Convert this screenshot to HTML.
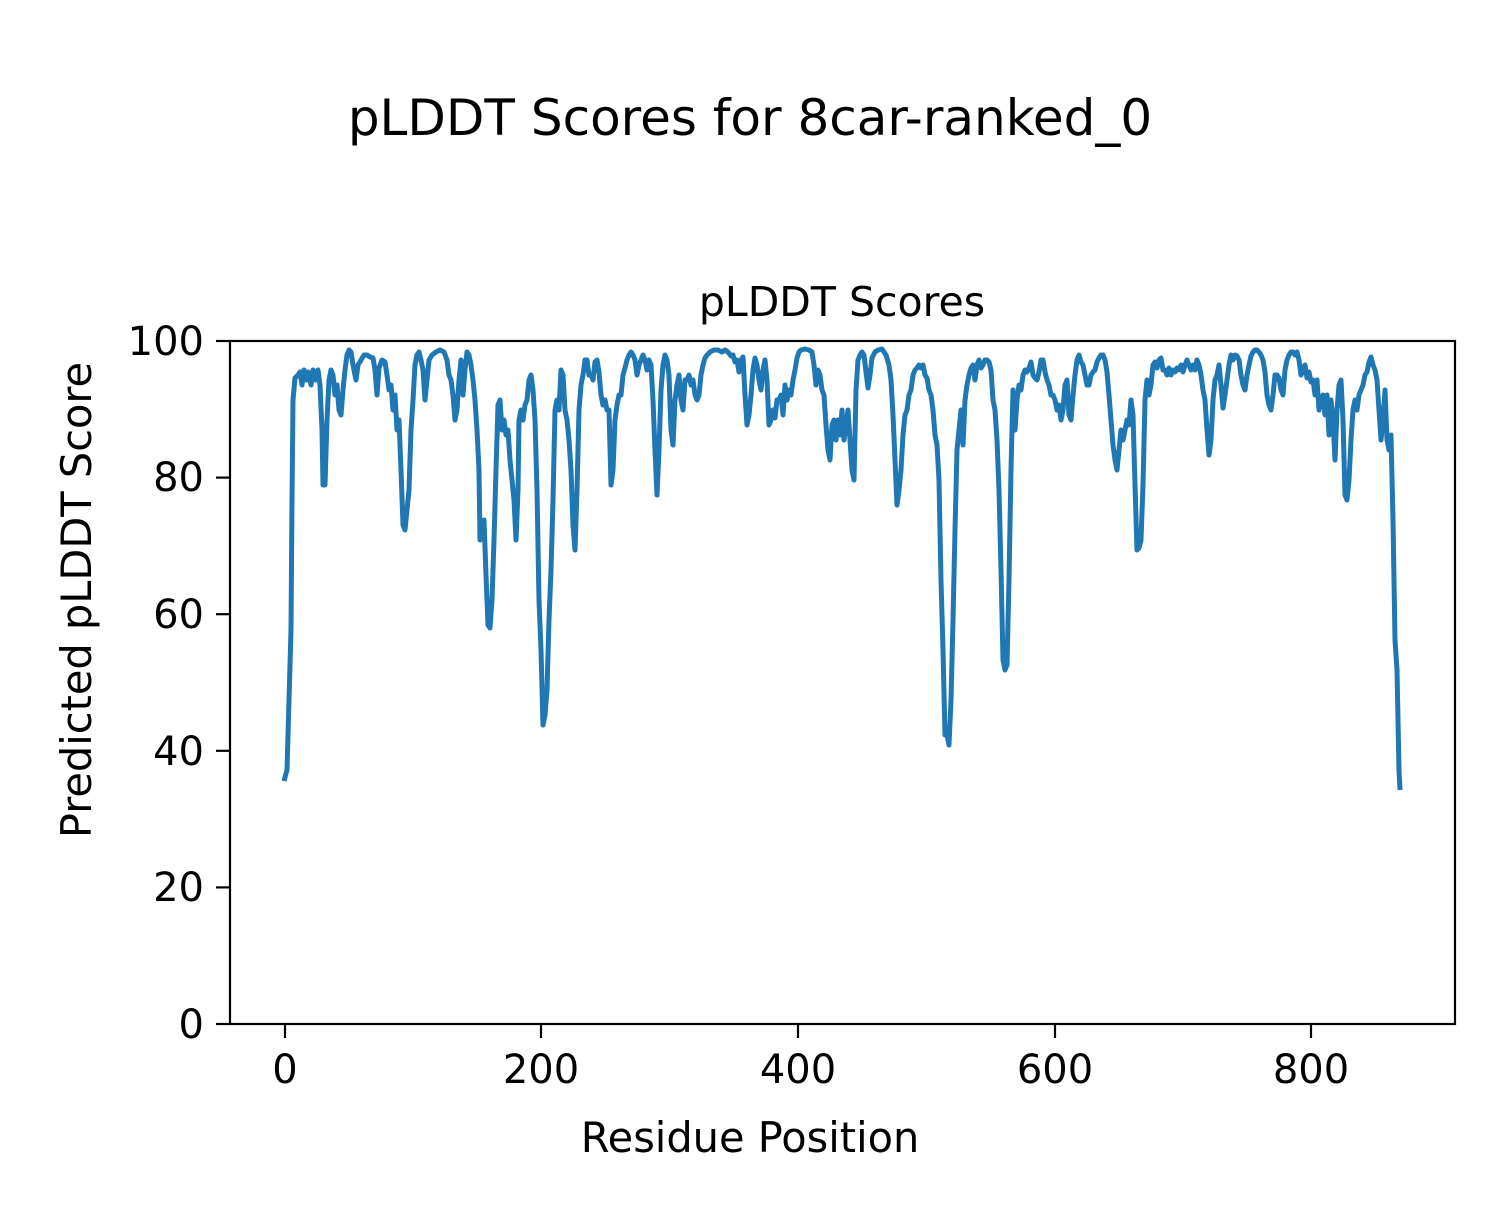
<!DOCTYPE html>
<html><head><meta charset="utf-8"><style>
html,body{margin:0;padding:0;background:#fff;}
svg text{font-family:"DejaVu Sans","Liberation Sans",sans-serif;fill:#000;}
</style></head><body>
<svg width="1500" height="1200" viewBox="0 0 1500 1200" xmlns="http://www.w3.org/2000/svg">
<rect width="1500" height="1200" fill="#fff"/>
<text x="750" y="135" font-size="50" text-anchor="middle">pLDDT Scores for 8car-ranked_0</text>
<text x="842" y="316" font-size="41" text-anchor="middle">pLDDT Scores</text>
<polyline fill="none" stroke="#1f77b4" stroke-width="5" stroke-linejoin="round" points="284,781 287,770 289,700 291,630 292,500 293,400 295,378 298,375 300,372 302,385 304,370 306,380 308,372 311,385 313,370 316,380 318,370 320,385 322,430 323,485 325,485 327,420 329,380 331,370 333,375 335,395 337,385 339,410 341,415 343,390 345,370 347,355 349,350 351,352 353,365 356,380 358,365 361,360 364,355 367,355 370,357 373,358 375,370 377,395 379,368 382,360 385,362 387,375 389,390 391,385 393,410 395,395 397,430 399,420 401,470 403,525 405,530 407,510 409,490 411,430 413,400 415,365 417,355 419,352 421,360 423,370 425,400 427,380 429,360 432,355 436,352 440,350 444,352 447,360 449,375 451,380 453,395 455,420 457,410 459,380 461,360 463,395 465,370 467,352 469,355 471,365 473,380 475,400 477,430 479,470 480,540 482,525 484,520 486,575 488,625 490,628 492,600 494,540 496,470 498,405 500,400 502,430 504,420 506,435 508,430 510,460 512,480 514,500 516,540 518,490 519,420 521,410 523,420 525,405 527,400 529,380 531,375 533,390 535,420 537,490 539,600 541,650 543,725 545,715 547,690 549,620 551,570 553,500 555,410 557,400 559,410 561,370 563,375 565,410 567,420 569,440 571,470 573,525 575,550 577,490 579,410 581,385 583,375 585,360 587,360 589,375 591,375 593,380 595,362 597,360 599,372 601,395 603,405 605,400 607,410 609,410 611,485 613,470 615,420 617,405 619,395 621,395 623,375 625,368 627,360 629,355 631,352 633,355 635,360 637,375 639,365 641,360 643,355 645,360 647,370 649,360 651,365 653,400 655,450 657,495 659,450 661,390 663,365 665,355 667,360 669,375 671,430 673,445 675,400 677,385 679,375 681,400 683,410 685,380 687,380 689,375 691,385 693,380 695,395 697,400 699,395 701,375 703,365 705,358 707,355 710,352 714,350 718,350 722,352 725,350 728,352 731,356 733,355 735,362 737,360 739,372 741,360 743,357 745,395 747,425 749,415 751,395 753,370 755,358 757,365 759,380 761,390 763,370 765,360 767,380 769,425 771,420 773,410 775,418 777,400 779,400 781,395 783,415 785,385 787,400 789,390 791,395 793,380 795,370 797,358 799,352 801,350 805,349 809,350 812,352 814,365 816,385 818,370 820,375 822,390 824,395 826,425 828,450 830,460 832,425 834,420 836,440 838,420 840,435 842,410 844,440 846,425 848,410 850,440 852,470 854,480 856,390 858,360 860,355 862,352 864,355 866,372 868,388 870,375 872,358 875,352 878,350 882,349 886,355 889,365 891,380 893,415 895,460 897,505 899,490 901,470 903,435 905,415 907,410 909,395 911,390 913,375 915,370 917,368 919,365 921,368 923,365 925,375 927,378 929,390 931,395 933,410 935,435 937,445 939,480 941,580 943,650 945,735 947,735 949,745 951,700 953,620 955,530 957,450 959,430 961,410 963,445 965,400 967,385 969,375 971,368 973,365 975,380 977,365 979,360 981,368 983,365 985,360 987,360 989,362 991,370 993,400 995,410 997,440 999,490 1001,570 1003,660 1005,670 1007,665 1009,580 1011,470 1013,390 1015,430 1017,400 1019,385 1021,390 1023,375 1025,370 1027,372 1029,368 1031,362 1033,375 1035,378 1037,380 1039,372 1041,360 1043,360 1045,372 1047,380 1049,385 1051,395 1053,395 1055,400 1057,410 1059,405 1061,420 1063,410 1065,385 1067,380 1069,415 1071,420 1073,395 1075,375 1077,360 1079,355 1081,362 1083,365 1085,375 1087,385 1089,385 1091,375 1093,372 1095,370 1097,362 1099,358 1101,355 1103,355 1105,360 1107,372 1109,395 1111,420 1113,445 1115,460 1117,470 1119,450 1121,430 1123,440 1125,430 1127,420 1129,425 1131,400 1133,415 1135,485 1137,550 1139,548 1141,540 1143,485 1145,400 1147,380 1149,395 1151,385 1153,365 1155,362 1157,368 1159,360 1161,358 1163,370 1165,370 1167,375 1169,368 1171,375 1173,370 1175,372 1177,368 1179,370 1181,365 1183,372 1185,365 1187,360 1189,365 1191,370 1193,365 1195,370 1197,360 1199,365 1201,375 1203,390 1205,400 1207,430 1209,455 1211,440 1213,400 1215,380 1217,375 1219,365 1221,385 1223,408 1225,395 1227,380 1229,365 1231,355 1233,360 1235,355 1237,356 1239,360 1241,375 1243,385 1245,390 1247,375 1249,365 1251,356 1253,352 1255,350 1257,350 1259,352 1261,355 1263,360 1265,372 1267,395 1269,405 1271,410 1273,395 1275,375 1277,375 1279,378 1281,390 1283,395 1285,370 1287,360 1289,355 1291,352 1293,352 1295,355 1297,352 1299,360 1301,375 1303,370 1305,365 1307,378 1309,372 1311,382 1313,380 1315,395 1317,380 1319,410 1321,400 1323,395 1325,415 1327,395 1329,435 1331,400 1333,420 1335,460 1337,410 1339,385 1341,380 1343,420 1345,495 1347,500 1349,480 1351,440 1353,410 1355,400 1357,410 1359,395 1361,390 1363,385 1365,375 1367,372 1369,362 1371,357 1373,365 1375,370 1377,380 1379,410 1381,440 1383,420 1385,390 1387,440 1389,450 1391,435 1393,520 1395,640 1397,670 1399,770 1400,790"/>
<rect x="230" y="341" width="1225" height="683" fill="none" stroke="#000" stroke-width="2.2"/>
<g stroke="#000" stroke-width="2.2">
<line x1="285" y1="1024" x2="285" y2="1038"/><line x1="541" y1="1024" x2="541" y2="1038"/><line x1="798" y1="1024" x2="798" y2="1038"/><line x1="1055" y1="1024" x2="1055" y2="1038"/><line x1="1311" y1="1024" x2="1311" y2="1038"/>
<line x1="216" y1="1024" x2="230" y2="1024"/><line x1="216" y1="887.4" x2="230" y2="887.4"/><line x1="216" y1="750.8" x2="230" y2="750.8"/><line x1="216" y1="614.2" x2="230" y2="614.2"/><line x1="216" y1="477.6" x2="230" y2="477.6"/><line x1="216" y1="341" x2="230" y2="341"/>
</g>
<g font-size="40" text-anchor="middle">
<text x="285" y="1083">0</text><text x="541" y="1083">200</text><text x="798" y="1083">400</text><text x="1055" y="1083">600</text><text x="1311" y="1083">800</text>
</g>
<g font-size="40" text-anchor="end">
<text x="204" y="1038">0</text><text x="204" y="901">20</text><text x="204" y="765">40</text><text x="204" y="628">60</text><text x="204" y="491">80</text><text x="204" y="355">100</text>
</g>
<text x="750" y="1152" font-size="41.5" text-anchor="middle">Residue Position</text>
<text transform="translate(91,600) rotate(-90)" font-size="41.5" text-anchor="middle">Predicted pLDDT Score</text>
</svg>
</body></html>
